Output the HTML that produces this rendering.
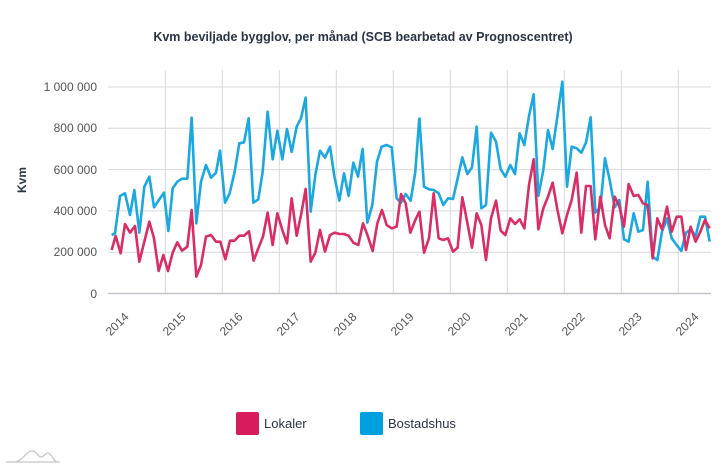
<!DOCTYPE html>
<html><head><meta charset="utf-8"><style>
body{margin:0;background:#fff;}
svg{display:block;font-family:"Liberation Sans",sans-serif;}
</style></head><body>
<svg width="727" height="468" viewBox="0 0 727 468" xmlns="http://www.w3.org/2000/svg">
<text x="363" y="41" text-anchor="middle" font-size="12.5" font-weight="bold" fill="#2a3345">Kvm beviljade bygglov, per månad (SCB bearbetad av Prognoscentret)</text>
<g stroke="#d8d8de" stroke-width="1">
<line x1="108" y1="87" x2="711" y2="87"/><line x1="108" y1="128.3" x2="711" y2="128.3"/><line x1="108" y1="169.6" x2="711" y2="169.6"/><line x1="108" y1="210.9" x2="711" y2="210.9"/><line x1="108" y1="252.2" x2="711" y2="252.2"/>
<line x1="165.3" y1="70" x2="165.3" y2="293.5"/><line x1="222.3" y1="70" x2="222.3" y2="293.5"/><line x1="279.3" y1="70" x2="279.3" y2="293.5"/><line x1="336.3" y1="70" x2="336.3" y2="293.5"/><line x1="393.3" y1="70" x2="393.3" y2="293.5"/><line x1="450.3" y1="70" x2="450.3" y2="293.5"/><line x1="507.3" y1="70" x2="507.3" y2="293.5"/><line x1="564.3" y1="70" x2="564.3" y2="293.5"/><line x1="621.3" y1="70" x2="621.3" y2="293.5"/><line x1="678.3" y1="70" x2="678.3" y2="293.5"/>
</g>
<line x1="108" y1="293.5" x2="711" y2="293.5" stroke="#c4c4cc" stroke-width="1.5"/>
<g font-size="12" fill="#555" text-anchor="end">
<text x="97" y="91">1 000 000</text><text x="97" y="132">800 000</text><text x="97" y="174">600 000</text><text x="97" y="215">400 000</text><text x="97" y="256">200 000</text><text x="97" y="298">0</text>
</g>
<text transform="translate(26,180) rotate(-90)" text-anchor="middle" font-size="12" font-weight="bold" fill="#2a3345">Kvm</text>
<g font-size="12" fill="#555" text-anchor="middle">
<text transform="translate(120,327) rotate(-45)">2014</text>
<text transform="translate(177,327) rotate(-45)">2015</text>
<text transform="translate(234,327) rotate(-45)">2016</text>
<text transform="translate(291,327) rotate(-45)">2017</text>
<text transform="translate(348,327) rotate(-45)">2018</text>
<text transform="translate(405,327) rotate(-45)">2019</text>
<text transform="translate(462,327) rotate(-45)">2020</text>
<text transform="translate(519,327) rotate(-45)">2021</text>
<text transform="translate(576,327) rotate(-45)">2022</text>
<text transform="translate(633,327) rotate(-45)">2023</text>
<text transform="translate(690,327) rotate(-45)">2024</text>
</g>
<g fill="none" stroke-width="2.6" stroke-linejoin="round">
<g transform="translate(100,70) scale(0.33333)">
<polyline vector-effect="non-scaling-stroke" stroke="#1ba8e0" points="35,495 45,490 60,378 75,370 90,435 103,360 118,488 133,350 148,320 162,412 178,388 192,368 205,483 218,355 232,335 246,326 262,326 275,143 289,460 303,335 318,285 333,323 348,308 360,242 375,398 389,370 404,305 418,220 432,217 446,145 460,398 475,388 488,305 503,125 518,268 532,182 547,268 561,177 575,246 590,170 603,145 617,83 632,425 646,315 660,242 675,263 690,230 703,318 718,392 732,310 746,378 760,278 774,320 788,237 802,458 817,405 831,275 845,230 860,225 875,232 890,385 903,398 917,372 932,392 946,305 958,143"/>
<polyline vector-effect="non-scaling-stroke" stroke="#d92d66" points="35,540 47,498 62,550 75,462 90,488 105,468 118,575 133,515 148,455 162,505 176,603 190,555 204,603 218,548 232,517 246,542 262,530 275,420 289,620 303,585 318,500 333,495 348,515 361,515 376,568 390,512 404,512 418,497 432,497 447,484 461,572 475,535 489,500 503,428 518,525 532,430 547,480 561,520 575,385 590,497 604,430 617,357 632,575 646,548 660,480 675,545 690,495 704,488 718,492 732,492 746,497 760,518 775,525 789,460 803,497 818,543 832,460 846,420 860,465 875,475 890,470 903,372 917,400 931,488 946,450 958,425"/>
</g>
<g transform="translate(400,70) scale(0.33333)">
<polyline vector-effect="non-scaling-stroke" stroke="#1ba8e0" points="58,143 72,350 87,358 101,360 116,370 130,405 144,385 159,387 173,325 187,262 202,312 216,292 230,170 244,415 258,405 273,188 288,215 302,298 316,320 331,285 345,312 359,190 373,225 387,138 401,73 415,378 430,300 444,180 458,237 472,140 487,35 501,350 515,230 530,235 544,248 558,218 572,142 586,428 601,412 615,265 629,330 644,412 658,390 672,508 686,515 701,430 715,485 729,480 743,335 758,560 772,570 786,485 801,445 815,505 830,525 844,543 858,488 872,478 887,498 901,440 915,440 929,515"/>
<polyline vector-effect="non-scaling-stroke" stroke="#d92d66" points="58,422 72,548 87,505 101,370 116,505 130,510 144,505 159,545 173,533 187,382 202,458 216,533 230,430 244,465 258,570 273,445 288,392 302,482 316,495 331,445 345,462 359,448 373,475 387,345 401,268 415,478 430,415 444,380 458,338 472,418 487,490 501,435 515,390 530,308 544,488 558,348 572,348 586,508 601,380 615,465 629,505 644,380 658,408 672,470 686,342 701,378 715,375 729,400 743,405 758,565 772,445 786,478 801,410 815,485 830,440 844,440 858,540 872,470 887,515 901,485 915,450 929,475"/>
</g>
</g>
<rect x="236" y="412" width="23" height="23" rx="2" fill="#d81b5c"/>
<text x="264" y="428" font-size="13" fill="#2a3345">Lokaler</text>
<rect x="360" y="412" width="23" height="23" rx="2" fill="#00a0e0"/>
<text x="388" y="428" font-size="13" fill="#2a3345">Bostadshus</text>
<path d="M6,462 H60 M14,462 C22,462 26,451 32,451 C37,451 38,457 41,457 C44,457 45,453 48,453 C52,453 53,462 58,462" fill="none" stroke="#c8c8c8" stroke-width="1.3"/>
</svg>
</body></html>
